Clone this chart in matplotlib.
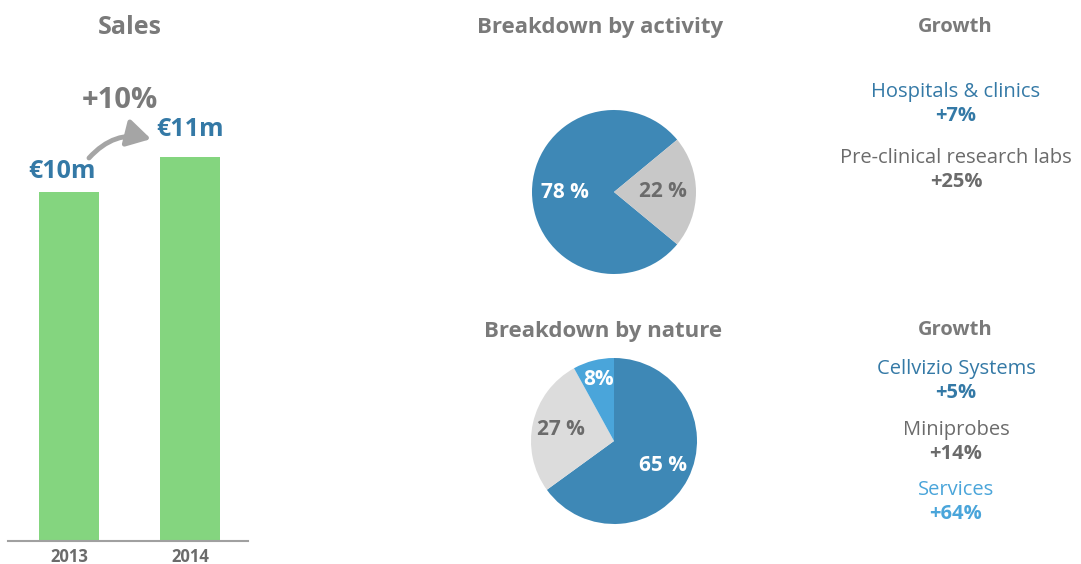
import matplotlib.pyplot as plt
from matplotlib.patches import FancyArrowPatch

# Données
annees = ["2013", "2014"]
ventes = [10, 11]
ventes_labels = ["€10m", "€11m"]
croissance_ventes = "+10%"

activite_valeurs = [78, 22]
activite_labels = ["78 %", "22 %"]

nature_valeurs = [65, 27, 8]
nature_labels = ["65 %", "27 %", "8%"]

croissance_activite = [("Hospitals & clinics", "+7%"), ("Pre-clinical research labs", "+25%")]
croissance_nature = [("Cellvizio Systems", "+5%"), ("Miniprobes", "+14%"), ("Services", "+64%")]

# Couleurs
gris_titre = "#7a7a7a"
gris_texte = "#6b6b6b"
bleu_texte = "#3479a6"
bleu_clair = "#4aa5da"
vert = "#84d57f"
bleu_pie = "#3e88b6"

plt.rcParams['font.family'] = ['Open Sans', 'DejaVu Sans']

W, H = 1081, 564
fig = plt.figure(figsize=(W / 100, H / 100), dpi=100)


def fx(x):
    return x / W


def fy(y):
    return 1 - y / H


# --- Barres des ventes ---
ax = fig.add_axes([fx(0), fy(541), fx(248), (541 - 60) / H])
ax.bar(range(len(annees)), ventes, width=0.5, color=vert)
ax.set_xlim(-0.57, 1.48)
ax.set_ylim(0, 481 / 34.9)
for s in ["top", "right", "left"]:
    ax.spines[s].set_visible(False)
ax.spines["bottom"].set_color("#a0a0a0")
ax.spines["bottom"].set_linewidth(1.5)
ax.spines["bottom"].set_bounds(-0.5, 1.48)
ax.set_yticks([])
ax.set_xticks(range(len(annees)))
ax.set_xticklabels(annees, fontsize=12, fontweight="bold", color=gris_texte)
ax.tick_params(axis="x", length=0, pad=5)
for i, (v, lab) in enumerate(zip(ventes, ventes_labels)):
    ax.annotate(lab, (i, v), xytext=(-5 if i == 0 else 0, 15 if i == 0 else 20),
                textcoords="offset points", ha="center", va="center", fontsize=18,
                fontweight="bold", color=bleu_texte)

fig.text(fx(130), fy(28), "Sales", ha="center", va="center", fontsize=18,
         fontweight="bold", color=gris_titre)
fig.text(fx(120), fy(101), croissance_ventes, ha="center", va="center", fontsize=21,
         fontweight="bold", color=gris_titre)
fleche = FancyArrowPatch((fx(89), fy(158)), (fx(151), fy(139)), transform=fig.transFigure,
                         connectionstyle="arc3,rad=-0.3", arrowstyle="-|>,head_length=9.5,head_width=5.5",
                         color="#a5a5a5", lw=3.5, mutation_scale=1.5, shrinkA=0, shrinkB=0)
fig.patches.append(fleche)


# --- Camemberts ---
def camembert(cx, cy, r, valeurs, couleurs, labels, coul_labels, **kw):
    axp = fig.add_axes([fx(cx - r), fy(cy + r), fx(2 * r), 2 * r / H])
    wedges, textes, autotextes = axp.pie(valeurs, colors=couleurs, autopct="%d",
                                        textprops=dict(fontsize=15, fontweight="bold"), **kw)
    for t, lab, c in zip(autotextes, labels, coul_labels):
        t.set_text(lab)
        t.set_color(c)
    axp.set_xlim(-1, 1)
    axp.set_ylim(-1, 1)
    return autotextes


camembert(614, 192, 82, activite_valeurs, [bleu_pie, "#c8c8c8"], activite_labels,
          ["white", gris_texte], startangle=39.6, pctdistance=0.6)
at = camembert(614, 441, 83, nature_valeurs, [bleu_pie, "#dcdcdc", bleu_clair], nature_labels,
               ["white", gris_texte, "white"], startangle=90, counterclock=False, pctdistance=0.66)
x8, y8 = at[2].get_position()
at[2].set_position((x8 * 1.15, y8 * 1.15))

fig.text(fx(600), fy(27), "Breakdown by activity", ha="center", va="center", fontsize=16,
         fontweight="bold", color=gris_titre)
fig.text(fx(603), fy(332), "Breakdown by nature", ha="center", va="center", fontsize=16,
         fontweight="bold", color=gris_titre)

# --- Croissance ---
fig.text(fx(955), fy(27), "Growth", ha="center", va="center", fontsize=14.5,
         fontweight="bold", color=gris_titre)
fig.text(fx(955), fy(330), "Growth", ha="center", va="center", fontsize=14.5,
         fontweight="bold", color=gris_titre)

for (nom, val), y, c in zip(croissance_activite, [92, 158], [bleu_texte, gris_texte]):
    fig.text(fx(956), fy(y), nom, ha="center", va="center", fontsize=14.5, color=c)
    fig.text(fx(956), fy(y + 24), val, ha="center", va="center", fontsize=14.5,
             fontweight="bold", color=c)

for (nom, val), y, c in zip(croissance_nature, [369, 430, 490], [bleu_texte, gris_texte, bleu_clair]):
    fig.text(fx(956), fy(y), nom, ha="center", va="center", fontsize=14.5, color=c)
    fig.text(fx(956), fy(y + 24), val, ha="center", va="center", fontsize=14.5,
             fontweight="bold", color=c)

fig.savefig("out.png", dpi=100)
